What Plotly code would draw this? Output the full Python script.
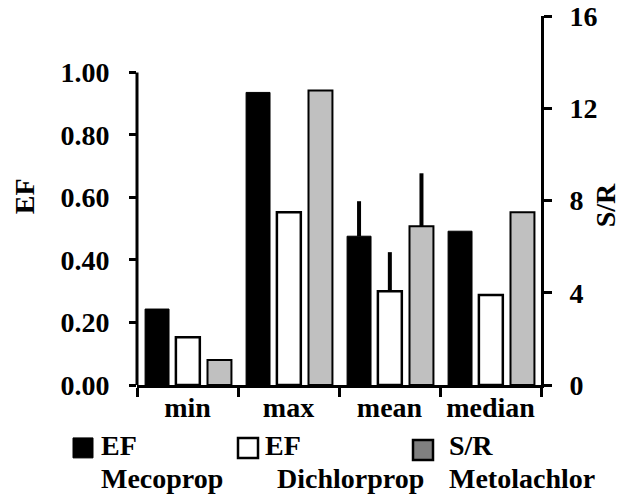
import plotly.graph_objects as go

# ---- data ----
categories = ["min", "max", "mean", "median"]
ef_mecoprop = [0.243, 0.936, 0.476, 0.492]
ef_mecoprop_err = [0, 0, 0.112, 0]
ef_dichlorprop = [0.153, 0.553, 0.300, 0.288]
ef_dichlorprop_err = [0, 0, 0.125, 0]
sr_metolachlor = [1.08, 12.77, 6.88, 7.49]
sr_metolachlor_err = [0, 0, 2.3, 0]

ef_ticks = [0, 0.2, 0.4, 0.6, 0.8, 1.0]
sr_ticks = [0, 4, 8, 12, 16]
legend_line1 = ["EF", "EF", "S/R"]
legend_line2 = ["Mecoprop", "Dichlorprop", "Metolachlor"]

# ---- layout geometry (pixels) ----
W, H = 621, 497
L, R, T, B = 137, 541, 15.5, 385
FONT = "Liberation Serif"
FS = 28

def px(x):
    return (x - L) / (R - L)

def py(y):
    return (B - y) / (B - T)

bw = 0.237
err_style = dict(type="data", symmetric=False, width=0, thickness=4, color="black")

fig = go.Figure()
fig.add_trace(go.Bar(
    x=categories, y=ef_mecoprop, name="EF Mecoprop", yaxis="y",
    width=bw, offset=-0.42,
    marker=dict(color="black", line=dict(color="black", width=1)),
    error_y=dict(array=ef_mecoprop_err, arrayminus=[0] * 4, **err_style),
))
fig.add_trace(go.Bar(
    x=categories, y=ef_dichlorprop, name="EF Dichlorprop", yaxis="y",
    width=bw, offset=-0.115,
    marker=dict(color="white", line=dict(color="black", width=2.5)),
    error_y=dict(array=ef_dichlorprop_err, arrayminus=[0] * 4, **err_style),
))
fig.add_trace(go.Bar(
    x=categories, y=sr_metolachlor, name="S/R Metolachlor", yaxis="y2",
    width=bw, offset=0.198,
    marker=dict(color="#C0C0C0", line=dict(color="black", width=2)),
    error_y=dict(array=sr_metolachlor_err, arrayminus=[0] * 4, **err_style),
))

tickfont = dict(family=FONT, size=FS, color="black", weight="bold")

fig.update_layout(
    width=W, height=H,
    margin=dict(l=L, r=W - R, t=T, b=H - B, pad=0, autoexpand=False),
    paper_bgcolor="white", plot_bgcolor="white",
    showlegend=False, barmode="group",
    xaxis=dict(
        type="category", showline=True, linewidth=3, linecolor="black",
        ticks="outside", tickson="boundaries", ticklen=9, tickwidth=3, tickcolor="black",
        showgrid=False, tickfont=tickfont, ticklabelstandoff=-5, automargin=False,
    ),
    yaxis=dict(
        range=[0, 1.0 * (B - T) / (B - 72)], showline=False, showgrid=False, zeroline=False,
        tickvals=ef_ticks, tickformat=".2f", ticks="outside", ticklen=7, tickwidth=3,
        tickcolor="black", tickfont=tickfont, ticklabelstandoff=14, automargin=False,
    ),
    yaxis2=dict(
        range=[0, 16], overlaying="y", side="right", showline=True, linewidth=3,
        linecolor="black", showgrid=False, zeroline=False, tickvals=sr_ticks,
        ticks="outside", ticklen=8, tickwidth=3, tickcolor="black", tickfont=tickfont,
        ticklabelstandoff=12, automargin=False,
    ),
)

shapes = []
annotations = []
# left axis line only from 0 to 1.00
shapes.append(dict(type="line", xref="paper", yref="y", x0=0, x1=0, y0=0, y1=1.0,
                   line=dict(color="black", width=3)))

# axis titles
annotations.append(dict(text="EF", xref="paper", yref="paper", x=px(24), y=py(196),
                        textangle=-90, showarrow=False, font=tickfont,
                        xanchor="center", yanchor="middle"))
annotations.append(dict(text="S/R", xref="paper", yref="paper", x=px(605), y=py(205),
                        textangle=-90, showarrow=False, font=tickfont,
                        xanchor="center", yanchor="middle"))

# custom legend
swatches = [
    dict(x0=73, x1=93, y0=438, y1=458, fill="black", lw=1),
    dict(x0=238, x1=258, y0=438, y1=458, fill="white", lw=2.5),
    dict(x0=413, x1=433, y0=440, y1=460, fill="#808080", lw=2.5),
]
line1_x = [99, 263, 447]
line2_x = [99, 275, 447]
for i, s in enumerate(swatches):
    shapes.append(dict(type="rect", xref="paper", yref="paper",
                       x0=px(s["x0"]), x1=px(s["x1"]), y0=py(s["y1"]), y1=py(s["y0"]),
                       fillcolor=s["fill"], line=dict(color="black", width=s["lw"])))
    annotations.append(dict(text=legend_line1[i], xref="paper", yref="paper",
                            x=px(line1_x[i]), y=py(446), xanchor="left", yanchor="middle",
                            showarrow=False, font=tickfont))
    annotations.append(dict(text=legend_line2[i], xref="paper", yref="paper",
                            x=px(line2_x[i]), y=py(479), xanchor="left", yanchor="middle",
                            showarrow=False, font=tickfont))

fig.update_layout(shapes=shapes, annotations=annotations)
fig.write_html(
    "out.html",
    config={"displayModeBar": False},
    post_script="document.body.style.margin='0';document.body.style.padding='0';",
)
